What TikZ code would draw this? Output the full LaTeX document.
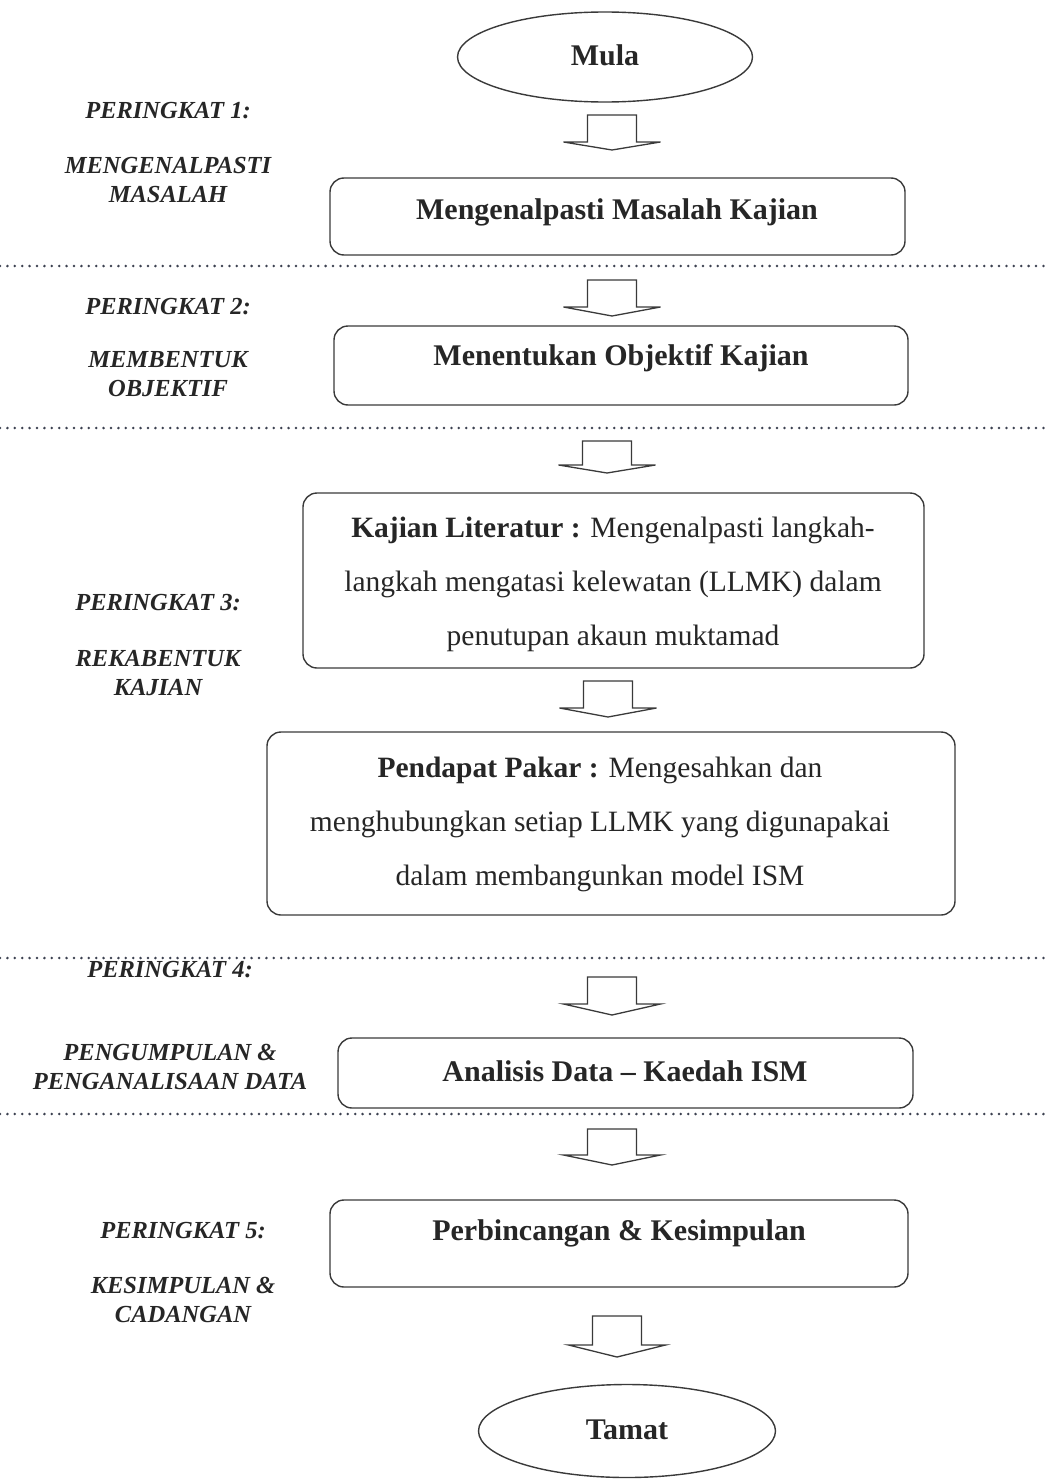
\documentclass[tikz,border=0pt]{standalone}
\usepackage{fontspec}
\setmainfont{Liberation Serif}
\usetikzlibrary{shapes.geometric}
\definecolor{linecol}{HTML}{3A3A3A}
\definecolor{textcol}{HTML}{262626}
\definecolor{dotcol}{HTML}{3C4150}
\newcommand\blockarrow[5]{%
  \coordinate (#1) at (#2,#3);
  \draw[arrowline] (#2-24.5,#3) -- (#2+24.5,#3) -- (#2+24.5,#4) -- (#2+48.5,#4)
     -- (#2,#5) -- (#2-48.5,#4) -- (#2-24.5,#4) -- cycle;}
\begin{document}
\begin{tikzpicture}[x=1pt,y=-1pt,
  box/.style={draw=linecol, line width=1.4pt, rounded corners=14pt, inner sep=0pt},
  oval/.style={ellipse, draw=linecol, line width=1.4pt, inner sep=0pt},
  boxtext/.style={text=textcol, font=\fontsize{30}{36}\selectfont\bfseries, inner sep=0pt},
  bodytext/.style={text=textcol, font=\fontsize{29.5}{54}\selectfont, align=center, inner sep=0pt},
  lab/.style={text=textcol, font=\fontsize{24.5}{28.5}\selectfont\bfseries\itshape, align=center, inner sep=0pt},
  arrowline/.style={draw=linecol, line width=1.3pt, fill=white, line join=miter},
  dotline/.style={draw=dotcol, line width=2.8pt, dash pattern=on 0pt off 7.4pt, line cap=round}]
\useasboundingbox (0,0) rectangle (1048,1480);

% ovals
\node[oval, minimum width=295pt, minimum height=90pt] (mula) at (605,57) {};
\node[boxtext] (mulat) at (605,55) {Mula};
\node[oval, minimum width=297pt, minimum height=93pt] (tamat) at (627,1431) {};
\node[boxtext] (tamatt) at (627,1430) {Tamat};

% boxes
\node[box, minimum width=575pt, minimum height=77pt] (b1) at (617.5,216.5) {};
\node[boxtext] (t1) at (617,212) {Mengenalpasti Masalah Kajian};

\node[box, minimum width=574pt, minimum height=79pt] (b2) at (621,365.5) {};
\node[boxtext] (t2) at (621,358) {Menentukan Objektif Kajian};

\node[box, minimum width=621pt, minimum height=175pt] (b3) at (613.5,580.5) {};
\node[bodytext] (t3) at (613,584) {\textbf{Kajian Literatur :} Mengenalpasti langkah-\\langkah mengatasi kelewatan (LLMK) dalam\\penutupan akaun muktamad};

\node[box, minimum width=688pt, minimum height=183pt] (b4) at (611,823.5) {};
\node[bodytext] (t4) at (600,824) {\textbf{Pendapat Pakar :} Mengesahkan dan\\menghubungkan setiap LLMK yang digunapakai\\dalam membangunkan model ISM};

\node[box, minimum width=575pt, minimum height=70pt] (b5) at (625.5,1073) {};
\node[boxtext] (t5) at (625,1071) {Analisis Data -- Kaedah ISM};

\node[box, minimum width=578pt, minimum height=87pt] (b6) at (619,1243.5) {};
\node[boxtext] (t6) at (619,1233) {Perbincangan \& Kesimpulan};

% block arrows
\blockarrow{a1}{612}{115}{142}{150}
\blockarrow{a2}{612}{280}{307}{316}
\blockarrow{a3}{607}{441}{465}{473}
\blockarrow{a4}{608}{681}{708}{717}
\blockarrow{a5}{612}{977}{1004}{1015}
\blockarrow{a6}{612}{1129}{1155}{1165}
\blockarrow{a7}{617}{1316}{1345}{1357}

% dotted separators
\draw[dotline] (0,266) -- (1048,266);
\draw[dotline] (0,428) -- (1048,428);
\draw[dotline] (0,958) -- (1048,958);
\draw[dotline] (0,1114) -- (1048,1114);

% left labels
\node[lab] (p1) at (168,111) {PERINGKAT 1:};
\node[lab] (p1b) at (168,180) {MENGENALPASTI\\MASALAH};
\node[lab] (p2) at (168,307) {PERINGKAT 2:};
\node[lab] (p2b) at (168,374) {MEMBENTUK\\OBJEKTIF};
\node[lab] (p3) at (158,603) {PERINGKAT 3:};
\node[lab] (p3b) at (158,673) {REKABENTUK\\KAJIAN};
\node[lab] (p4) at (170,970) {PERINGKAT 4:};
\node[lab] (p4b) at (170,1067) {PENGUMPULAN \&\\PENGANALISAAN DATA};
\node[lab] (p5) at (183,1231) {PERINGKAT 5:};
\node[lab] (p5b) at (183,1300) {KESIMPULAN \&\\CADANGAN};
\end{tikzpicture}
\end{document}
